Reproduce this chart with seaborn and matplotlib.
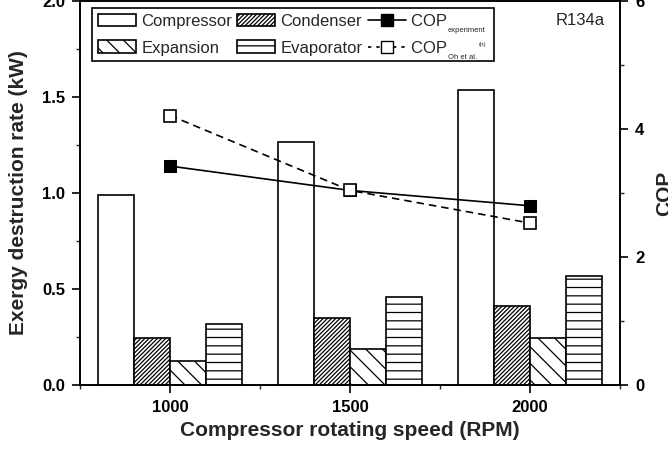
import numpy as np
import pandas as pd
import matplotlib.pyplot as plt
import seaborn as sns
from matplotlib.patches import Patch
from matplotlib.lines import Line2D
from matplotlib.ticker import MultipleLocator
from matplotlib.transforms import IdentityTransform

sns.set_theme(style='ticks')
plt.rcParams['font.family'] = ['Liberation Sans', 'DejaVu Sans']
plt.rcParams['hatch.linewidth'] = 0.9

rpm = [1000, 1500, 2000]
components = ['Compressor', 'Condenser', 'Expansion', 'Evaporator']
compressor = [0.99, 1.265, 1.535]
condenser = [0.245, 0.35, 0.41]
expansion = [0.125, 0.19, 0.245]
evaporator = [0.32, 0.46, 0.57]
cop_exp = [3.42, 3.04, 2.80]
cop_oh = [4.21, 3.04, 2.53]
hatches = ['', '////////', '\\\\', '--']

df = pd.DataFrame({
    'rpm': rpm * 4,
    'rate': compressor + condenser + expansion + evaporator,
    'component': [c for c in components for _ in rpm],
})

fig, ax = plt.subplots(figsize=(6.68, 4.53), dpi=100)
fig.subplots_adjust(left=0.12, right=0.928, bottom=0.15, top=0.998)

sns.barplot(data=df, x='rpm', y='rate', hue='component', hue_order=components,
            native_scale=True, palette={c: 'white' for c in components},
            saturation=1, edgecolor='black', linewidth=1.2, width=0.8,
            legend=False, ax=ax)
for cont, h in zip(ax.containers, hatches):
    for bar in cont:
        bar.set_hatch(h)

ax2 = ax.twinx()
sns.lineplot(x=rpm, y=cop_exp, ax=ax2, color='black', linewidth=1.2,
             marker='s', markersize=9, markerfacecolor='black',
             markeredgecolor='black')
sns.lineplot(x=rpm, y=cop_oh, ax=ax2, color='black', linewidth=1.2,
             linestyle='--', marker='s', markersize=9,
             markerfacecolor='white', markeredgecolor='black',
             markeredgewidth=1.2)
ax2.lines[-1].set_dashes([4.5, 3])

ax.set_xlim(750, 2250)
ax.set_ylim(0, 2.0)
ax2.set_ylim(0, 6)
ax.set_xticks(rpm)
ax.xaxis.set_minor_locator(MultipleLocator(250))
ax.set_yticks([0, 0.5, 1.0, 1.5, 2.0])
ax.set_yticklabels(['0.0', '0.5', '1.0', '1.5', '2.0'])
ax.yaxis.set_minor_locator(MultipleLocator(0.25))
ax2.set_yticks([0, 2, 4, 6])
ax2.yaxis.set_minor_locator(MultipleLocator(1))

for a in (ax, ax2):
    a.tick_params(which='major', direction='out', length=6, width=1.2,
                  labelsize=12, pad=5, colors='black')
    a.tick_params(which='minor', direction='out', length=3, width=1.0)
    for s in a.spines.values():
        s.set_linewidth(1.2)
        s.set_color('black')
ax.tick_params(axis='x', which='both', top=False)
ax2.tick_params(axis='y', which='both', right=True, left=False)
for lbl in ax.get_xticklabels() + ax.get_yticklabels() + ax2.get_yticklabels():
    lbl.set_fontweight('bold')

ax.set_xlabel('Compressor rotating speed (RPM)', fontsize=15,
              fontweight='bold', labelpad=4)
ax.set_ylabel('Exergy destruction rate (kW)', fontsize=15,
              fontweight='bold', labelpad=10)
ax2.set_ylabel('COP', fontsize=15, fontweight='bold', labelpad=8)

ax.text(0.88, 0.95, 'R134a', transform=ax.transAxes, fontsize=12,
        va='center', ha='left')

handles = [
    Patch(facecolor='white', edgecolor='black', linewidth=1.2, hatch=hatches[0]),
    Patch(facecolor='white', edgecolor='black', linewidth=1.2, hatch=hatches[2]),
    Patch(facecolor='white', edgecolor='black', linewidth=1.2, hatch=hatches[1]),
    Patch(facecolor='white', edgecolor='black', linewidth=1.2, hatch=hatches[3]),
    Line2D([], [], color='black', lw=1.2, marker='s', markersize=9,
           markerfacecolor='black'),
    Line2D([], [], color='black', lw=1.2, ls=(0, (2, 3)), marker='s',
           markersize=9, markerfacecolor='white'),
]
# COP labels get their small subscripts drawn afterwards
pad = ' ' * 9
labels = ['Compressor', 'Expansion', 'Condenser', 'Evaporator',
          'COP' + pad, 'COP' + pad]
leg = ax2.legend(handles, labels, ncol=3, loc='upper left',
                 bbox_to_anchor=(0.022, 0.982), borderaxespad=0,
                 fontsize=12, frameon=True, fancybox=False, edgecolor='black',
                 framealpha=1, handlelength=2.3, handleheight=0.8,
                 handletextpad=0.3, columnspacing=0.3, labelspacing=0.7,
                 borderpad=0.35)
leg.get_frame().set_linewidth(1.2)

fig.canvas.draw()
r = fig.canvas.get_renderer()
subs = [('experiment', None), ('Oh et al.', '(n)')]
for t, (sub, sup) in zip(leg.get_texts()[4:], subs):
    x0, yb = t.get_transform().transform(t.get_position())
    w, h, d = r.get_text_width_height_descent('COP', t.get_fontproperties(),
                                              ismath=False)
    st = fig.text(x0 + w + 1, yb - 1, sub, fontsize=5.5, va='top', ha='left',
                  transform=IdentityTransform())
    if sup:
        sb = st.get_window_extent(r)
        fig.text(sb.x1 + 2, yb + 6, sup, fontsize=4.5, va='bottom', ha='left',
                 transform=IdentityTransform())

fig.savefig('out.png', dpi=100)
